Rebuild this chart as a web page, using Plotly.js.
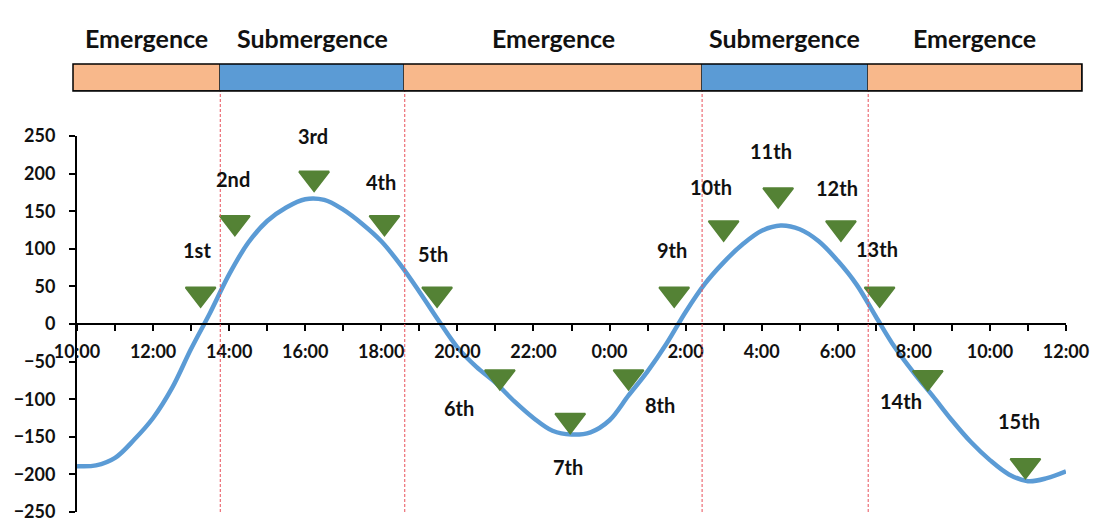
<!DOCTYPE html>
<html><head><meta charset="utf-8">
<script src="https://cdn.plot.ly/plotly-3.0.1.min.js"></script>
<style>html,body{margin:0;padding:0;background:#fff}#chart{width:1113px;height:526px}</style>
</head><body><div id="chart"></div>
<script>
// ---- data ----
const curveTime = ['10:00','10:30','11:00','11:30','12:00','12:30','13:00','13:30','14:00','14:30','15:00','15:30',
  '16:00','16:30','17:00','17:30','18:00','18:30','19:00','19:30','20:00','20:30','21:00','21:30','22:00','22:30',
  '23:00','23:30','0:00','0:30','1:00','1:30','2:00','2:30','3:00','3:30','4:00','4:30','5:00','5:30','6:00','6:30',
  '7:00','7:30','8:00','8:30','9:00','9:30','10:00','10:30','11:00','11:30','12:00'];
const curveLevel = [-189,-188,-178,-154,-125,-85,-33,15,66,108,137,155,
  166,165,152,133,110,79,43,5,-31,-57,-78,-103,-125,-142,
  -147,-144,-128,-95,-63,-26,16,53,82,106,124,131,126,110,84,52,
  10,-31,-65,-96,-128,-157,-181,-200,-209,-205,-196];

const markerTime = ['13:15','14:09','16:14','18:05','19:28','21:07','22:58','0:30','1:42','3:00','4:26','6:05','7:06','8:22','10:56'];
const markerLevel = [40,135,194,135,40,-70,-128,-70,40,128,172,128,40,-71,-188];
const markerLabel = ['1st','2nd','3rd','4th','5th','6th','7th','8th','9th','10th','11th','12th','13th','14th','15th'];

const phaseName  = ['Emergence','Submergence','Emergence','Submergence','Emergence'];
const phaseStart = ['9:54','13:46','18:37','2:26','6:48'];
const phaseEnd   = ['13:46','18:37','2:26','6:48','12:26'];

const yTicks = [-250,-200,-150,-100,-50,0,50,100,150,200,250];

// ---- helpers ----
function toDates(list){
  let day = 1, prev = -1;
  return list.map(s => {
    const [h,m] = s.split(':').map(Number);
    const mins = h*60+m;
    if (mins < prev) day++;
    prev = mins;
    return '2020-01-0' + day + ' ' + String(h).padStart(2,'0') + ':' + String(m).padStart(2,'0');
  });
}
const ms = s => new Date(s.replace(' ','T')+':00Z').getTime();

const curveX = toDates(curveTime);
const markerX = toDates(markerTime);
const pStart = toDates(phaseStart);
const pEnd = toDates(phaseEnd);

// ---- layout geometry ----
const W=1113, H=526, M={l:20,r:20,t:10,b:10};
const fx = px => (px-M.l)/(W-M.l-M.r);
const fy = py => (H-M.b-py)/(H-M.t-M.b);
const xDom = [fx(77), fx(1066)];
const yDom = [fy(512), fy(136)];
const x2Dom = [fx(73), fx(1082)];
const y2Dom = [fy(91), fy(64)];
const zeroPos = yDom[0] + (0-(-250))/500*(yDom[1]-yDom[0]);

const FONT = 'Lato, "Open Sans", sans-serif';
const BLUE = '#5B9BD5', ORANGE = '#F8B88B', GREEN = '#548235';

const traces = [
  {
    type:'bar', orientation:'h', xaxis:'x2', yaxis:'y2',
    y: phaseName.map(()=> 'band'),
    x: pStart.map((s,i)=> ms(pEnd[i]) - ms(s)),
    base: pStart,
    width: phaseName.map(()=>1),
    marker:{color: phaseName.map(n => n==='Emergence'? ORANGE : BLUE), line:{color:'#3a3a3a', width:1}},
    hoverinfo:'skip', showlegend:false
  },
  {
    type:'scatter', mode:'lines', x: curveX, y: curveLevel,
    line:{color: BLUE, width:4.5, shape:'spline', smoothing:1},
    showlegend:false, hoverinfo:'x+y'
  },
  {
    type:'scatter', mode:'markers', x: markerX, y: markerLevel, text: markerLabel,
    marker:{symbol:'triangle-down', size:26, color: GREEN, line:{color: GREEN, width:2}},
    showlegend:false, hoverinfo:'text+y'
  }
];

// label offsets in pixels (right, down) from the marker
const labelOffset = [[-4,-44],[-2,-43],[-1,-42],[-3,-40],[-4,-40],[-41,31],[-2,47],[31,28],
  [-2,-44],[-13,-41],[-7,-44],[-4,-40],[-3,-45],[-27,24],[-6,-44]];

const annotations = markerLabel.map((t,i)=>({
  x: markerX[i], y: markerLevel[i], xref:'x', yref:'y', text: t, showarrow:false,
  xshift: labelOffset[i][0], yshift: -labelOffset[i][1],
  xanchor:'center', yanchor:'middle',
  font:{family: FONT, size:20, color:'#111', weight:'bold'}
}));
phaseName.forEach((n,i)=>{
  const mid = new Date((ms(pStart[i]) + ms(pEnd[i]))/2).toISOString().replace('T',' ').slice(0,19);
  annotations.push({x: mid, y: fy(38), xref:'x2', yref:'paper', text:n, showarrow:false,
    xanchor:'center', yanchor:'middle',
    font:{family: FONT, size:25, color:'#111', weight:'bold'}});
});

const shapes = pStart.slice(1).map(s => ({
  type:'line', xref:'x', yref:'paper', x0:s, x1:s, y0: yDom[0], y1: y2Dom[0],
  line:{color:'#E8505A', width:1, dash:'3px,2px'}
}));
shapes.push({type:'rect', xref:'x2 domain', yref:'y2 domain', x0:0, x1:1, y0:0, y1:1,
  line:{color:'#000', width:1.5}, fillcolor:'rgba(0,0,0,0)'});

const layout = {
  width: W, height: H, margin: M,
  paper_bgcolor:'#fff', plot_bgcolor:'rgba(0,0,0,0)',
  font:{family: FONT, color:'#111'},
  xaxis:{
    type:'date', domain: xDom, anchor:'free', position: zeroPos,
    range:['2020-01-01 10:00','2020-01-02 12:00'],
    tick0:'2020-01-01 10:00', dtick: 7200000, tickformat:'%-H:%M',
    ticks:'outside', ticklen:6, tickwidth:1.5, tickcolor:'#000',
    minor:{dtick:3600000, tick0:'2020-01-01 10:00', ticks:'outside', ticklen:6, tickwidth:1.5, tickcolor:'#000', showgrid:false},
    showline:true, linecolor:'#000', linewidth:2, showgrid:false, zeroline:false,
    ticklabelstandoff: 5,
    tickfont:{family: FONT, size:18, color:'#111', weight:'bold'}
  },
  yaxis:{
    domain: yDom, anchor:'x', range:[-250,250], tickvals: yTicks,
    ticks:'outside', ticklen:6, tickwidth:1.5, tickcolor:'#000',
    showline:true, linecolor:'#000', linewidth:2, showgrid:false, zeroline:false,
    ticklabelstandoff: 10,
    tickfont:{family: FONT, size:18, color:'#111', weight:'bold'}
  },
  xaxis2:{type:'date', domain: x2Dom, anchor:'y2', range:[pStart[0], pEnd[pEnd.length-1]], visible:false, fixedrange:true},
  yaxis2:{domain: y2Dom, anchor:'x2', range:[-0.5,0.5], visible:false, type:'category', fixedrange:true},
  annotations, shapes,
  showlegend:false, bargap:0
};

Plotly.newPlot('chart', traces, layout, {displayModeBar:false});
</script></body></html>
